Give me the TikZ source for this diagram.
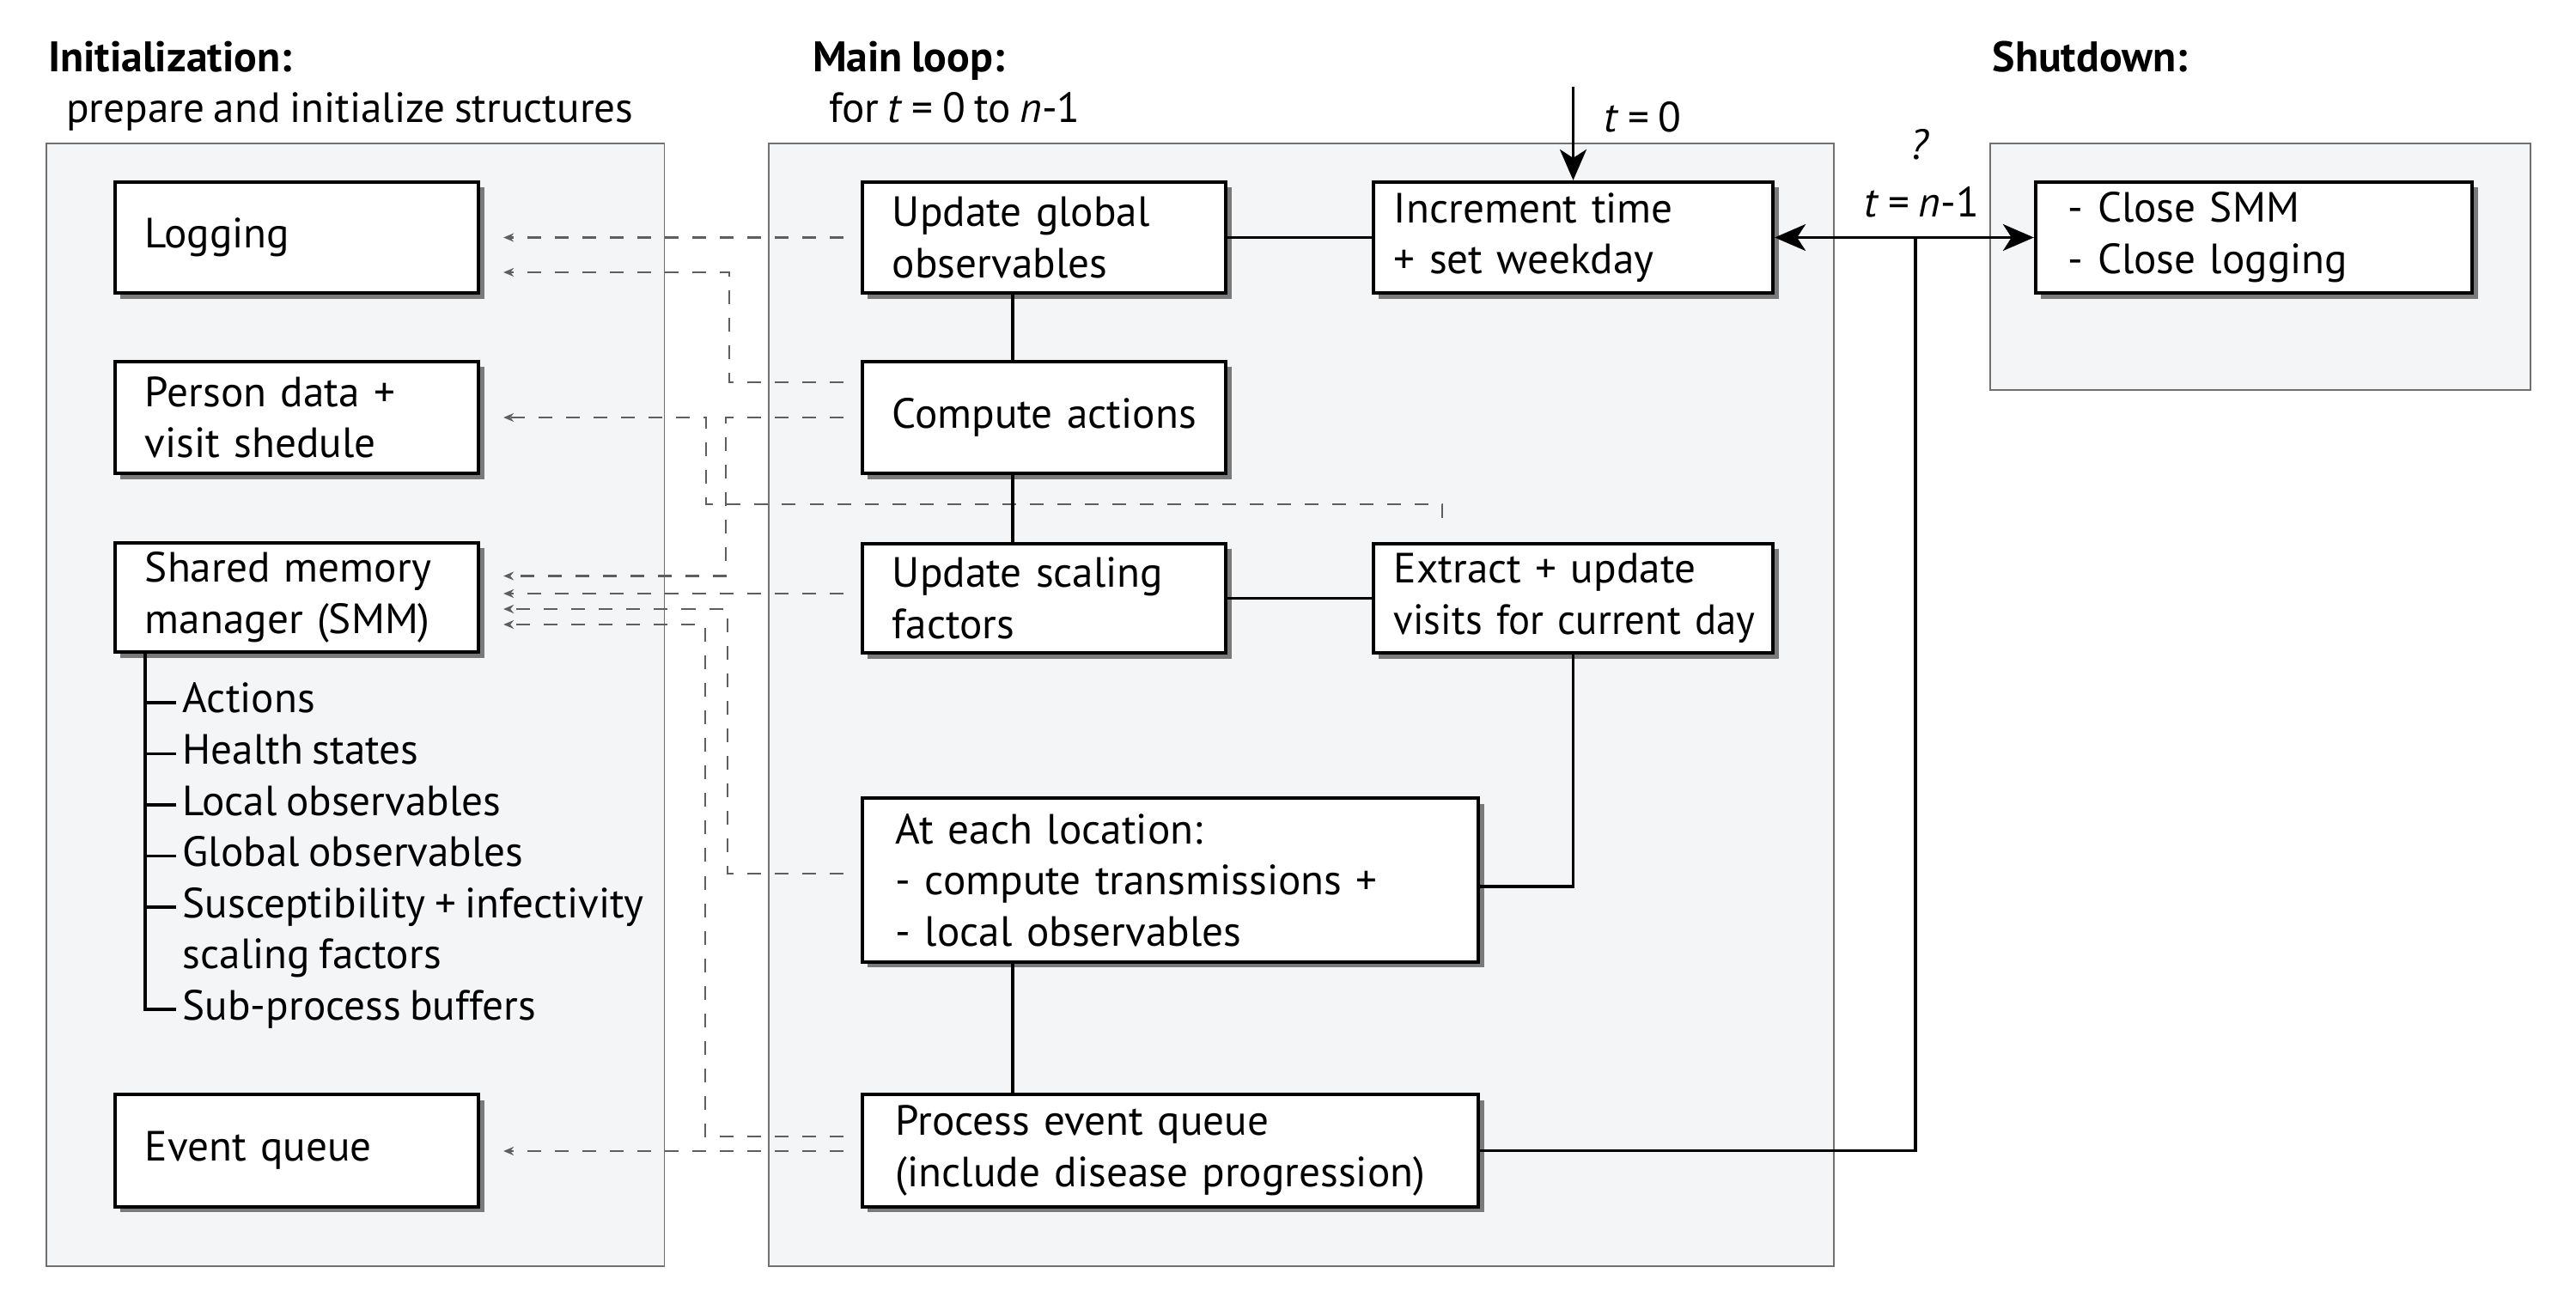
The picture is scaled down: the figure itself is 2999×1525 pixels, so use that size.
\documentclass[tikz,border=0pt]{standalone}
\usepackage{fontspec}
\setmainfont{PT Sans}[WordSpace=0.8]
\usetikzlibrary{arrows.meta,shadows,calc}
\definecolor{panelfill}{HTML}{F4F5F7}
\definecolor{panelline}{HTML}{707070}
\definecolor{shadowc}{HTML}{7A7A7A}
\definecolor{dashc}{HTML}{5E5E5E}
\newlength\calw
\AtBeginDocument{%
\settowidth\calw{\fontsize{10pt}{12pt}\selectfont Shared memory(include disease progression)visits for current day}%
\pgfmathsetmacro\fsz{10*385.2/\calw}%
\settowidth\calw{\fontsize{10pt}{12pt}\selectfont\bfseries Initialization:Main loop:Shutdown:}%
\pgfmathsetmacro\bsz{10*208.7/\calw}%
}
\begin{document}
\begin{tikzpicture}[x=0.01cm,y=-0.01cm]
\tikzset{
  txt/.style={font=\fontsize{\fsz pt}{16.96pt}\selectfont},
  ttl/.style={font=\fontsize{\bsz pt}{16.96pt}\selectfont\bfseries, inner sep=0pt, anchor=base west},
  lbl/.style={txt, inner sep=0pt, anchor=base west},
  panel/.style={draw=panelline, fill=panelfill, line width=0.015cm},
  box/.style={draw=black, line width=0.04cm, fill=white, align=left, inner xsep=0pt, inner ysep=0pt, txt,
    drop shadow={shadow xshift=0.065cm, shadow yshift=-0.065cm, fill=shadowc, opacity=1}},
  conn/.style={draw=black, line width=0.036cm},
  tto/.style={-{Stealth[length=0.36cm,width=0.31cm,inset=0.1cm]}},
  tboth/.style={{Stealth[length=0.36cm,width=0.31cm,inset=0.1cm]}-{Stealth[length=0.36cm,width=0.31cm,inset=0.1cm]}},
  dconn/.style={draw=dashc, line width=0.021cm, dash pattern=on 0.16cm off 0.16cm,
    -{Stealth[length=0.12cm,width=0.1cm]}, shorten <=0.2cm, shorten >=0.27cm},
  tree/.style={draw=black, line width=0.035cm},
}
\useasboundingbox (0,0) rectangle (2999,1525);

% panels
\draw[panel] (54,167) rectangle (773.6,1474);
\draw[panel] (895,167) rectangle (2135,1474);
\draw[panel] (2317,167) rectangle (2946,454);

% titles
\node[ttl] (tinit) at (55.5,84) {Initialization:};
\node[lbl] (sinit) at (76.5,143) {prepare and initialize structures};
\node[ttl] (tmain) at (945.4,84) {Main loop:};
\node[lbl] (smain) at (964.4,143) {for \textit{t} = 0 to \textit{n}-1};
\node[ttl] (tshut) at (2319,84) {Shutdown:};

% boxes
\node[box, minimum width=4.23cm, minimum height=1.29cm, text width=3.53cm] (log) at (345.5,276.5) {Logging};
\node[box, minimum width=4.23cm, minimum height=1.30cm, text width=3.53cm] (person) at (345.5,486) {Person data +\\visit shedule};
\node[box, minimum width=4.23cm, minimum height=1.27cm, text width=3.53cm] (smm) at (345.5,695.5) {Shared memory\\manager (SMM)};
\node[box, minimum width=4.23cm, minimum height=1.30cm, text width=3.53cm] (eventq) at (345.5,1339.5) {Event queue};

\node[box, minimum width=4.23cm, minimum height=1.29cm, text width=3.53cm] (upglob) at (1215.5,276.5) {Update global\\observables};
\node[box, minimum width=4.23cm, minimum height=1.30cm, text width=3.53cm] (compute) at (1215.5,486) {\mbox{Compute actions}};
\node[box, minimum width=4.23cm, minimum height=1.27cm, text width=3.53cm] (scaling) at (1215.5,696.5) {Update scaling\\factors};
\node[box, minimum width=4.65cm, minimum height=1.29cm, text width=4.17cm] (incr) at (1831.5,276.5) {Increment time\\+ set weekday};
\node[box, minimum width=4.65cm, minimum height=1.27cm, text width=4.17cm] (extract) at (1831.5,696.5) {Extract + update\\\mbox{\addfontfeatures{FakeStretch=0.95}visits for current day}};
\node[box, minimum width=7.17cm, minimum height=1.90cm, text width=6.39cm] (ateach) at (1362.5,1024.5) {At each location:\\- compute transmissions +\\- local observables};
\node[box, minimum width=7.17cm, minimum height=1.30cm, text width=6.39cm] (process) at (1362.5,1339.5) {Process event queue\\(include disease progression)};
\node[box, minimum width=5.08cm, minimum height=1.29cm, text width=4.32cm] (close) at (2624,276.5) {- Close SMM\\- Close logging};

% dashed data connectors
\draw[dconn] (upglob.west) -- (log.east);
\draw[dconn] (compute.west |- 0,445) -| (849,317) -- (log.east |- 0,317);
\draw[dconn, shorten <=0.28cm] (extract.north -| 1679,0) |- (822,587) |- (person.east);
\draw[dconn] (compute.west) -| (845,670.5) -- (smm.east |- 0,670.5);
\draw[dconn] (scaling.west |- 0,691) -- (smm.east |- 0,691);
\draw[dconn] (ateach.west |- 0,1017) -| (847,709) -- (smm.east |- 0,709);
\draw[dconn] (process.west |- 0,1323) -| (821,727) -- (smm.east |- 0,727);
\draw[dconn] (process.west |- 0,1340) -- (eventq.east |- 0,1340);

% SMM tree
\node[lbl] (i1) at (212,830) {Actions};
\node[lbl] (i2) at (212,889.5) {Health states};
\node[lbl] (i3) at (212,949) {Local observables};
\node[lbl] (i4) at (212,1008.5) {Global observables};
\node[lbl] (i5) at (212,1068) {Susceptibility + infectivity};
\node[lbl] (i5b) at (212,1127.5) {scaling factors};
\node[lbl] (i6) at (212,1187) {Sub-process buffers};
\draw[tree] (smm.south -| 169,0) |- ($(i6.base west)+(-7,-12)$);
\foreach \i in {i1,i2,i3,i4,i5}{
  \draw[tree] ($(\i.base west)+(-43,-12)$) -- ++(36,0);
}

% main loop solid connectors
\coordinate (vx) at (1179,0);
\draw[conn] (upglob.east) -- (incr.west);
\draw[conn] (upglob.south -| vx) -- (compute.north -| vx);
\draw[conn] (compute.south -| vx) -- (scaling.north -| vx);
\draw[conn] (scaling.east) -- (extract.west);
\draw[conn] (extract.south) |- (ateach.east |- 0,1032);
\draw[conn] (ateach.south -| vx) -- (process.north -| vx);
\coordinate (jn) at (2230,277);
\draw[conn] (process.east) -| (jn);
\draw[conn, tboth] (incr.east) -- (close.west);
\coordinate (tin) at (1831.5,101);
\draw[conn, tto] (tin) -- (incr.north);

% labels
\node[lbl] (lt0) at (1867,154) {\textit{t} = 0};
\node[txt, inner sep=0pt, anchor=base] (lq) at (2235,186) {\textit{?}};
\node[lbl] (ltn) at (2170,253) {\textit{t} = \textit{n}-1};
\end{tikzpicture}
\end{document}
